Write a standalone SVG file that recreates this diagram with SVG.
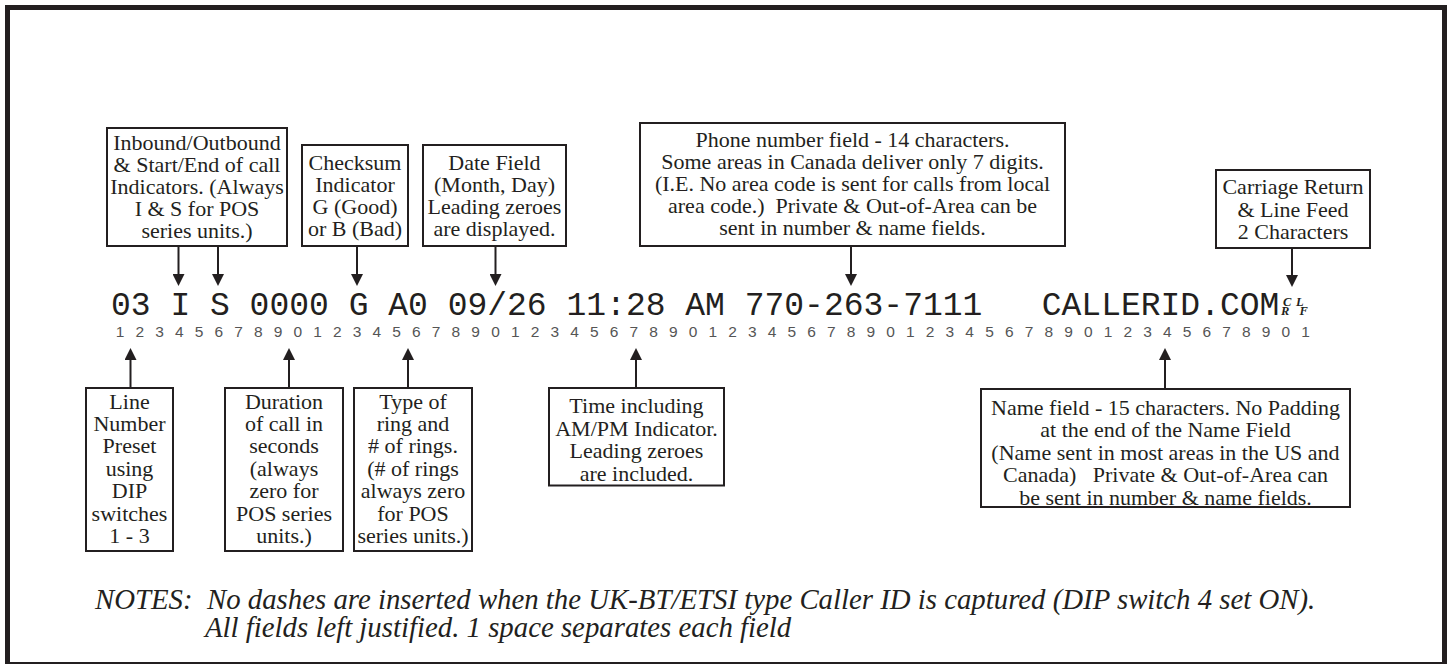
<svg xmlns="http://www.w3.org/2000/svg" width="1452" height="664" viewBox="0 0 1452 664">
<style>
.frame{fill:#fff;stroke:#231f20;stroke-width:5}
.box{fill:#fff;stroke:#231f20;stroke-width:2}
.lbl{font-family:"Liberation Serif","Times New Roman",serif;font-size:22px;fill:#231f20;text-anchor:middle}
.con line{stroke:#231f20;stroke-width:2;marker-end:url(#ah)}
.mono{font-family:"Liberation Mono","Courier New",monospace;font-size:33px;fill:#231f20}
.crlf{font-family:"Liberation Serif","Times New Roman",serif;font-size:12.5px;font-style:italic;font-weight:bold;fill:#231f20}
.ruler{font-family:"Liberation Sans Narrow","Liberation Sans",sans-serif;font-size:15.5px;fill:#555;text-anchor:middle}
.note{font-family:"Liberation Serif","Times New Roman",serif;font-style:italic;font-size:28.8px;fill:#231f20}
</style>
<defs>
<marker id="ah" markerUnits="userSpaceOnUse" markerWidth="12" markerHeight="12" viewBox="0 0 12 12" refX="2" refY="6" orient="auto"><path d="M0,0 L12,6 L0,12 z" fill="#231f20"/></marker>
</defs>
<rect class="frame" x="7.5" y="7.5" width="1437" height="657"/>

<g id="node-inbound">
<rect class="box" x="107" y="128" width="180" height="118"/>
<text class="lbl" x="197" y="150">Inbound/Outbound</text>
<text class="lbl" x="197" y="172">&amp; Start/End of call</text>
<text class="lbl" x="197" y="194">Indicators. (Always</text>
<text class="lbl" x="197" y="216">I &amp; S for POS</text>
<text class="lbl" x="197" y="238">series units.)</text>
</g>
<g id="node-checksum">
<rect class="box" x="302" y="145" width="106" height="101"/>
<text class="lbl" x="355" y="169.5">Checksum</text>
<text class="lbl" x="355" y="191.5">Indicator</text>
<text class="lbl" x="355" y="213.5">G (Good)</text>
<text class="lbl" x="355" y="235.5">or B (Bad)</text>
</g>
<g id="node-date">
<rect class="box" x="423" y="145" width="143" height="101"/>
<text class="lbl" x="494.5" y="169.5">Date Field</text>
<text class="lbl" x="494.5" y="191.5">(Month, Day)</text>
<text class="lbl" x="494.5" y="213.5">Leading zeroes</text>
<text class="lbl" x="494.5" y="235.5">are displayed.</text>
</g>
<g id="node-phone">
<rect class="box" x="640" y="123" width="425" height="123"/>
<text class="lbl" x="852.5" y="146.5">Phone number field - 14 characters.</text>
<text class="lbl" x="852.5" y="168.5">Some areas in Canada deliver only 7 digits.</text>
<text class="lbl" x="852.5" y="190.5">(I.E. No area code is sent for calls from local</text>
<text class="lbl" x="852.5" y="212.5" xml:space="preserve">area code.)  Private &amp; Out-of-Area can be</text>
<text class="lbl" x="852.5" y="234.5">sent in number &amp; name fields.</text>
</g>
<g id="node-crlf">
<rect class="box" x="1216" y="170" width="154" height="78"/>
<text class="lbl" x="1293" y="194">Carriage Return</text>
<text class="lbl" x="1293" y="216.5">&amp; Line Feed</text>
<text class="lbl" x="1293" y="239">2 Characters</text>
</g>

<g id="node-line">
<rect class="box" x="86" y="388" width="87" height="163"/>
<text class="lbl" x="129.5" y="408.5">Line</text>
<text class="lbl" x="129.5" y="430.9">Number</text>
<text class="lbl" x="129.5" y="453.3">Preset</text>
<text class="lbl" x="129.5" y="475.7">using</text>
<text class="lbl" x="129.5" y="498.1">DIP</text>
<text class="lbl" x="129.5" y="520.5">switches</text>
<text class="lbl" x="129.5" y="542.9">1 - 3</text>
</g>
<g id="node-duration">
<rect class="box" x="225" y="388" width="118" height="163"/>
<text class="lbl" x="284" y="408.5">Duration</text>
<text class="lbl" x="284" y="430.9">of call in</text>
<text class="lbl" x="284" y="453.3">seconds</text>
<text class="lbl" x="284" y="475.7">(always</text>
<text class="lbl" x="284" y="498.1">zero for</text>
<text class="lbl" x="284" y="520.5">POS series</text>
<text class="lbl" x="284" y="542.9">units.)</text>
</g>
<g id="node-type">
<rect class="box" x="354" y="388" width="118" height="163"/>
<text class="lbl" x="413" y="408.5">Type of</text>
<text class="lbl" x="413" y="430.9">ring and</text>
<text class="lbl" x="413" y="453.3"># of rings.</text>
<text class="lbl" x="413" y="475.7">(# of rings</text>
<text class="lbl" x="413" y="498.1">always zero</text>
<text class="lbl" x="413" y="520.5">for POS</text>
<text class="lbl" x="413" y="542.9">series units.)</text>
</g>
<g id="node-time">
<rect class="box" x="549" y="388" width="175" height="97.5"/>
<text class="lbl" x="636.5" y="413.3">Time including</text>
<text class="lbl" x="636.5" y="435.7">AM/PM Indicator.</text>
<text class="lbl" x="636.5" y="458.1">Leading zeroes</text>
<text class="lbl" x="636.5" y="480.5">are included.</text>
</g>
<g id="node-name">
<rect class="box" x="981" y="389" width="369" height="118"/>
<text class="lbl" x="1165.5" y="415">Name field - 15 characters. No Padding</text>
<text class="lbl" x="1165.5" y="437.4">at the end of the Name Field</text>
<text class="lbl" x="1165.5" y="459.8">(Name sent in most areas in the US and</text>
<text class="lbl" x="1165.5" y="482.2" xml:space="preserve">Canada)   Private &amp; Out-of-Area can</text>
<text class="lbl" x="1165.5" y="504.6">be sent in number &amp; name fields.</text>
</g>

<g id="record">
<text class="mono" x="111" y="315" xml:space="preserve">03 I S 0000 G A0 09/26 11:28 AM 770-263-7111   CALLERID.COM</text>
<text class="crlf"><tspan x="1283" y="305.5">C</tspan><tspan x="1281" y="314.5">R</tspan><tspan x="1296" y="305.5">L</tspan><tspan x="1299.5" y="314.5">F</tspan></text>
</g>
<g id="ruler">
<text class="ruler" y="337" x="120 139.76 159.52 179.28 199.04 218.8 238.56 258.32 278.08 297.84 317.6 337.36 357.12 376.88 396.64 416.4 436.16 455.92 475.68 495.44 515.2 534.96 554.72 574.48 594.24 614 633.76 653.52 673.28 693.04 712.8 732.56 752.32 772.08 791.84 811.6 831.36 851.12 870.88 890.64 910.4 930.16 949.92 969.68 989.44 1009.2 1028.96 1048.72 1068.48 1088.24 1108 1127.76 1147.52 1167.28 1187.04 1206.8 1226.56 1246.32 1266.08 1285.84 1305.6">1234567890123456789012345678901234567890123456789012345678901</text>
</g>

<g id="connectors" class="con">
<line x1="178.5" y1="246" x2="178.5" y2="276"/>
<line x1="218" y1="246" x2="218" y2="276"/>
<line x1="357" y1="246" x2="357" y2="276"/>
<line x1="495.5" y1="246" x2="495.5" y2="276"/>
<line x1="851" y1="246" x2="851" y2="276"/>
<line x1="1292" y1="248" x2="1292" y2="277"/>
<line x1="130.5" y1="388" x2="130.5" y2="358"/>
<line x1="289" y1="388" x2="289" y2="358"/>
<line x1="408" y1="388" x2="408" y2="358"/>
<line x1="636" y1="388" x2="636" y2="358"/>
<line x1="1165" y1="389" x2="1165" y2="358"/>
</g>

<g id="notes">
<text class="note" x="95" y="608.5" xml:space="preserve">NOTES:  No dashes are inserted when the UK-BT/ETSI type Caller ID is captured (DIP switch 4 set ON).</text>
<text class="note" x="205" y="637">All fields left justified. 1 space separates each field</text>
</g>
</svg>
